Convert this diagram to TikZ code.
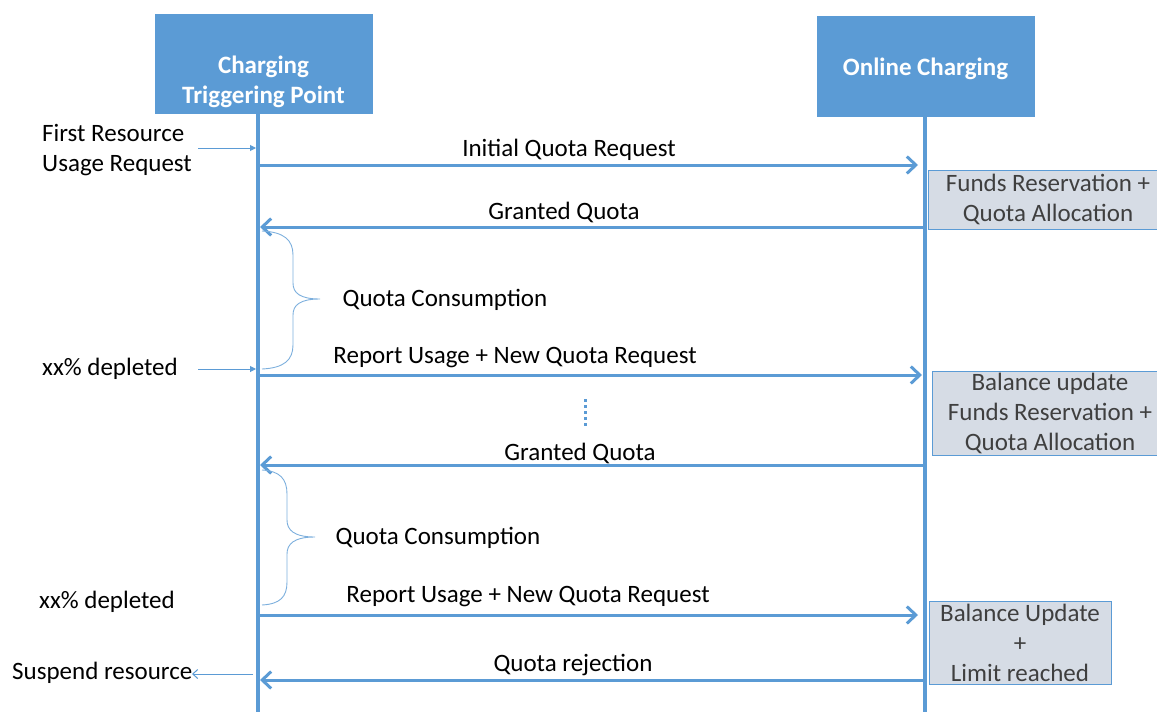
\documentclass[tikz,border=0pt]{standalone}
\usepackage{fontspec}
\setmainfont{Carlito}
\usetikzlibrary{arrows.meta}
\definecolor{obl}{HTML}{5B9BD5}
\definecolor{gbox}{HTML}{D6DCE5}
\definecolor{gtxt}{HTML}{3F3F3F}
\begin{document}
\begin{tikzpicture}[x=1pt,y=-1pt,
  txt/.style={font=\fontsize{25}{30}\selectfont, inner sep=2pt},
  hdr/.style={fill=obl, draw=obl, inner sep=0pt},
  hdrtxt/.style={txt, text=white, font=\fontsize{25}{30}\selectfont\bfseries, align=center},
  note/.style={txt, fill=gbox, draw=obl, line width=0.8pt, align=center, text=gtxt, inner sep=0pt},
  life/.style={draw=obl, line width=4pt},
  msg/.style={draw=obl, line width=3pt, -{Straight Barb[length=9pt,width=17pt]}},
  thin/.style={draw=obl, line width=1pt},
  brace/.style={draw=obl!80, line width=0.9pt},
]
\useasboundingbox (0,0) rectangle (1157,712);

% headers
\node[hdr, minimum width=217pt, minimum height=99pt] (cpt) at (263.5,63.5) {};
\node[hdrtxt] (cptT) at (263.5,82) {Charging\\Triggering Point};
\node[hdr, minimum width=217pt, minimum height=100pt] (ocs) at (925.5,66) {};
\node[hdrtxt] (ocsT) at (925.5,69) {Online Charging};

% lifelines
\coordinate (lt) at (258,113);
\coordinate (lb) at (258,712);
\coordinate (rt) at (925,116);
\coordinate (rb) at (925,712);
\draw[life] (lt) -- (lb);
\draw[life] (rt) -- (rb);

% notes
\node[note, minimum width=240pt, minimum height=59pt] (n1) at (1048,199.5) {Funds Reservation +\\Quota Allocation};
\node[note, minimum width=236pt, minimum height=84pt] (n2) at (1050,413) {Balance update\\Funds Reservation +\\Quota Allocation};
\node[note, minimum width=182pt, minimum height=83pt] (n3) at (1020,642.5) {Balance Update\\+\\Limit reached};

% message endpoints
\coordinate (m1a) at (258,165); \coordinate (m1b) at (918,165);
\coordinate (m2a) at (923,227); \coordinate (m2b) at (260,227);
\coordinate (m3a) at (258,375); \coordinate (m3b) at (922,375);
\coordinate (m4a) at (923,465); \coordinate (m4b) at (260,465);
\coordinate (m5a) at (258,615); \coordinate (m5b) at (918,615);
\coordinate (m6a) at (923,680); \coordinate (m6b) at (260,680);
\draw[msg] (m1a) -- (m1b);
\draw[msg] (m2a) -- (m2b);
\draw[msg] (m3a) -- (m3b);
\draw[msg] (m4a) -- (m4b);
\draw[msg] (m5a) -- (m5b);
\draw[msg] (m6a) -- (m6b);

% message labels
\node[txt] (l1) at (569,150) {Initial Quota Request};
\node[txt] (l2) at (564,212) {Granted Quota};
\node[txt] (l3) at (515,358) {Report Usage + New Quota Request};
\node[txt] (l4) at (580,453) {Granted Quota};
\node[txt] (l5) at (528,597) {Report Usage + New Quota Request};
\node[txt] (l6) at (573,665) {Quota rejection};

% continuation dots
\coordinate (d1) at (585,399);
\coordinate (d2) at (585,429);
\draw[draw=obl, line width=3pt, dash pattern=on 3pt off 3pt] (d1) -- (d2);

% left side events
\node[txt, anchor=west, align=left] (ev1) at (40,150) {First Resource\\Usage Request};
\node[txt, anchor=west] (ev2) at (40,369) {xx\% depleted};
\node[txt, anchor=west] (ev3) at (37,602) {xx\% depleted};
\node[txt, anchor=west] (ev4) at (10,673) {Suspend resource};
\coordinate (s1) at (198,148); \coordinate (e1) at (256,148);
\coordinate (s2) at (198,369); \coordinate (e2) at (256,369);
\coordinate (s4) at (253,674); \coordinate (e4) at (192,674);
\draw[thin, -{Triangle[length=6pt,width=6pt]}] (s1) -- (e1);
\draw[thin, -{Triangle[length=6pt,width=6pt]}] (s2) -- (e2);
\draw[thin, -{Straight Barb[length=5pt,width=9pt]}] (s4) -- (e4);

% braces
\draw[brace] (262,231) .. controls (284,232) and (293,240) .. (293,255) -- (293,283)
  .. controls (293,293) and (300,299) .. (320,299)
  .. controls (300,299) and (293,305) .. (293,315) -- (293,345)
  .. controls (293,360) and (284,368) .. (262,369);
\draw[brace] (262,470) .. controls (280,471) and (287,479) .. (287,494) -- (287,520)
  .. controls (287,530) and (294,537) .. (315,537)
  .. controls (294,537) and (287,544) .. (287,554) -- (287,582)
  .. controls (287,597) and (280,604) .. (262,605);
\node[txt] (qc1) at (445,300) {Quota Consumption};
\node[txt] (qc2) at (438,538) {Quota Consumption};
\end{tikzpicture}
\end{document}
